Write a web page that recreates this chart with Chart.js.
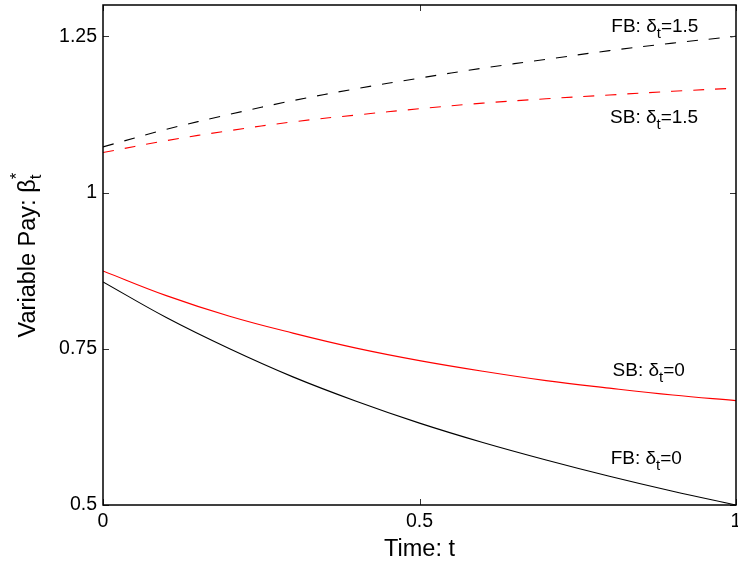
<!DOCTYPE html>
<html>
<head>
<meta charset="utf-8">
<script src="https://cdn.jsdelivr.net/npm/chart.js@4/dist/chart.umd.min.js"></script>
<style>
html,body{margin:0;padding:0;background:#fff;}
#wrap{width:738px;height:567px;position:relative;}
</style>
</head>
<body>
<div id="wrap"><canvas id="c" width="738" height="567"></canvas></div>
<script>
// ---- data ----
const times      = [0, 0.1, 0.2, 0.3, 0.4, 0.5, 0.6, 0.7, 0.8, 0.9, 1.0];
const fbDelta0   = [0.857, 0.800, 0.750, 0.705, 0.666, 0.631, 0.600, 0.572, 0.546, 0.522, 0.500];
const sbDelta0   = [0.8745, 0.835, 0.802, 0.775, 0.751, 0.731, 0.714, 0.699, 0.687, 0.676, 0.667];
const fbDelta15  = [1.073, 1.101, 1.125, 1.147, 1.166, 1.183, 1.199, 1.213, 1.227, 1.239, 1.250];
const sbDelta15  = [1.064, 1.083, 1.099, 1.113, 1.124, 1.134, 1.143, 1.150, 1.156, 1.162, 1.167];
const xTickValues = [0, 0.5, 1];
const yTickValues = [0.5, 0.75, 1, 1.25];
const xTitle = 'Time: t';
const yTitleMain = 'Variable Pay: β';
// curve labels: [prefix, subscript, suffix, t, value]
const curveLabels = [
  ['FB: δ', 't', '=1.5', 0.803, 1.2564],
  ['SB: δ', 't', '=1.5', 0.801, 1.1117],
  ['SB: δ', 't', '=0',   0.805, 0.7072],
  ['FB: δ', 't', '=0',   0.802, 0.5657]
];

const FONT = '"Liberation Sans", Arial, Helvetica, sans-serif';
Chart.defaults.color = '#000';
Chart.defaults.font.family = FONT;

function pts(ys){ return times.map((t,i)=>({x:t, y:ys[i]})); }

function drawRich(ctx, x, y, segs){
  let cx = x;
  for (const s of segs){
    ctx.font = s.size + 'px ' + FONT;
    ctx.fillText(s.text, cx, y + (s.dy||0));
    if (!s.noAdvance) cx += ctx.measureText(s.text).width;
  }
  return cx - x;
}

const decor = {
  id: 'decor',
  afterDatasetsDraw(chart){
    const ctx = chart.ctx;
    const a = chart.chartArea;
    const xs = chart.scales.x, ys = chart.scales.y;
    ctx.save();
    // inward tick marks on all four sides
    ctx.strokeStyle = '#333';
    ctx.lineWidth = 1;
    const tl = 6;
    ctx.beginPath();
    for (const v of xTickValues){
      const px = Math.round(xs.getPixelForValue(v)) + 0.5;
      ctx.moveTo(px, a.bottom); ctx.lineTo(px, a.bottom - tl);
      ctx.moveTo(px, a.top); ctx.lineTo(px, a.top + tl);
    }
    for (const v of yTickValues){
      const py = Math.round(ys.getPixelForValue(v)) + 0.5;
      ctx.moveTo(a.left, py); ctx.lineTo(a.left + tl, py);
      ctx.moveTo(a.right, py); ctx.lineTo(a.right - tl, py);
    }
    ctx.stroke();
    // frame
    ctx.strokeStyle = '#000';
    ctx.lineWidth = 1.5;
    ctx.strokeRect(a.left, a.top, a.right - a.left, a.bottom - a.top);

    // curve labels
    ctx.fillStyle = '#000';
    ctx.textBaseline = 'alphabetic';
    ctx.textAlign = 'left';
    for (const [pre, sub, suf, t, v] of curveLabels){
      const px = xs.getPixelForValue(t), py = ys.getPixelForValue(v);
      drawRich(ctx, px, py, [
        {text: pre, size: 19},
        {text: sub, size: 15, dy: 6},
        {text: suf, size: 19}
      ]);
    }
    // x title
    ctx.font = '23.5px ' + FONT;
    ctx.textAlign = 'center';
    ctx.fillText(xTitle, (a.left + a.right)/2, 556);
    // y title (rotated)
    ctx.textAlign = 'left';
    ctx.save();
    ctx.translate(35, (a.top + a.bottom)/2);
    ctx.rotate(-Math.PI/2);
    ctx.font = '23.5px ' + FONT;
    const wMain = ctx.measureText(yTitleMain).width;
    ctx.font = '17px ' + FONT;
    const wSub = ctx.measureText('t').width;
    const total = wMain + wSub + 2;
    const x0 = -total/2;
    drawRich(ctx, x0, 0, [
      {text: yTitleMain, size: 23.5},
      {text: '*', size: 17, dy: -13, noAdvance: true},
      {text: 't', size: 17, dy: 6}
    ]);
    ctx.restore();
    ctx.restore();
  }
};

new Chart(document.getElementById('c'), {
  type: 'line',
  data: {
    datasets: [
      {label: 'FB δ=1.5', data: pts(fbDelta15), borderColor: '#000', borderDash: [11, 11], borderWidth: 1.1},
      {label: 'SB δ=1.5', data: pts(sbDelta15), borderColor: '#ff0000', borderDash: [11, 11], borderWidth: 1.1},
      {label: 'SB δ=0', data: pts(sbDelta0), borderColor: '#ff0000', borderWidth: 1.1},
      {label: 'FB δ=0', data: pts(fbDelta0), borderColor: '#000', borderWidth: 1.1}
    ]
  },
  options: {
    responsive: false,
    animation: false,
    devicePixelRatio: 1,
    layout: {padding: {left: 0, right: 2, top: 5, bottom: 0}},
    elements: {
      point: {radius: 0},
      line: {tension: 0.4, fill: false}
    },
    plugins: {legend: {display: false}, tooltip: {enabled: false}},
    scales: {
      x: {
        type: 'linear', min: 0, max: 1,
        grid: {display: false, drawTicks: false},
        border: {display: false},
        afterBuildTicks(s){ s.ticks = xTickValues.map(v => ({value: v})); },
        afterFit(s){ s.height = 62; s.paddingLeft = 0; s.paddingRight = 0; },
        ticks: {padding: 5, font: {size: 19.5}, color: '#000', maxRotation: 0, callback: v => String(v)}
      },
      y: {
        type: 'linear', min: 0.5, max: 1.3,
        grid: {display: false, drawTicks: false},
        border: {display: false},
        afterBuildTicks(s){ s.ticks = yTickValues.map(v => ({value: v})); },
        afterFit(s){ s.width = 103; s.paddingTop = 0; s.paddingBottom = 0; },
        ticks: {padding: 6, font: {size: 19.5}, color: '#000', callback: v => String(v)}
      }
    }
  },
  plugins: [decor]
});
</script>
</body>
</html>
